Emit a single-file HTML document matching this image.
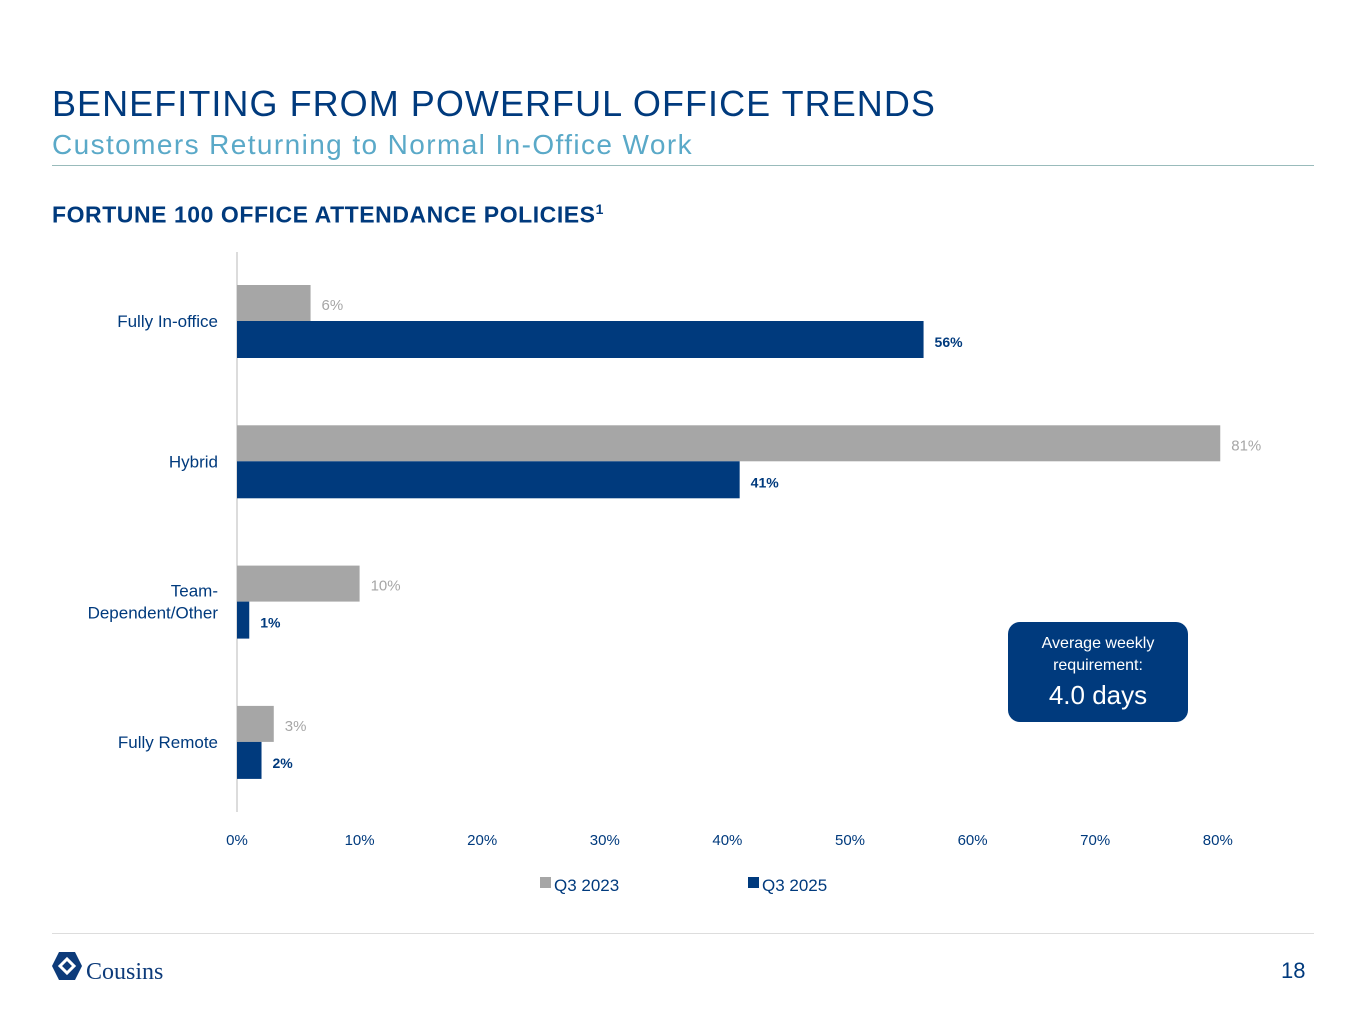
<!DOCTYPE html>
<html><head><meta charset="utf-8"><style>
body{margin:0;width:1365px;height:1032px;background:#fff;font-family:"Liberation Sans",sans-serif;overflow:hidden;position:relative}
.t{position:absolute;white-space:nowrap}
</style></head><body>
<div class="t" style="left:52px;top:83px;font-size:36px;color:#003a7d;letter-spacing:1.05px">BENEFITING FROM POWERFUL OFFICE TRENDS</div>
<div class="t" style="left:52px;top:129px;font-size:28px;color:#5aa9c8;letter-spacing:1.4px">Customers Returning to Normal In-Office Work</div>
<div style="position:absolute;left:52px;top:165px;width:1262px;height:1px;background:#9bb"></div>
<div class="t" style="left:52px;top:201px;font-size:23px;font-weight:bold;color:#003a7d;letter-spacing:0.55px">FORTUNE 100 OFFICE ATTENDANCE POLICIES<sup style="font-size:14px">1</sup></div>
<svg id="chart" width="1365" height="1032" style="position:absolute;left:0;top:0"></svg>
<div style="position:absolute;left:1008px;top:622px;width:180px;height:100px;background:#003a7d;border-radius:12px;color:#fff;text-align:center">
<div style="font-size:16px;margin-top:11px;line-height:22px">Average weekly<br>requirement:</div>
<div style="font-size:26px;margin-top:3px">4.0 days</div></div>
<div style="position:absolute;left:52px;top:933px;width:1262px;height:1px;background:#ddd"></div>
<svg style="position:absolute;left:52px;top:950px" width="120" height="34">
<polygon points="7,2 23,2 30,16 23,30 7,30 0,16" fill="#0d3b7a"/>
<path d="M8,16 L15,9 L22,16 L15,23 Z" fill="none" stroke="#fff" stroke-width="3"/>
<text x="34" y="29" font-family="Liberation Serif" font-size="24" fill="#0d3b7a">Cousins</text></svg>
<div class="t" style="left:1281px;top:958px;font-size:22px;color:#003a7d">18</div>
<script>
const categories=["Fully In-office","Hybrid","Team-\nDependent/Other","Fully Remote"];
const q2023=[6,81,10,3];
const q2025=[56,41,1,2];
const ticks=[0,10,20,30,40,50,60,70,80];
const svg=document.getElementById('chart');
const NS='http://www.w3.org/2000/svg';
const x0=237,pxPer=12.26,maxV=80.2;
const xs=v=>x0+Math.min(v,maxV)*pxPer;
const catY=i=>321+i*140.3;
function mk(tag,attrs,txt){const e=document.createElementNS(NS,tag);for(const k in attrs)e.setAttribute(k,attrs[k]);if(txt!==undefined)e.textContent=txt;svg.appendChild(e);return e;}
const ax=mk('line',{x1:237,x2:237,y1:252,y2:812,stroke:'#d0d0d0','stroke-width':1.5});


categories.forEach((c,i)=>{
 const y=catY(i);
 const g=mk('rect',{x:x0,y:y-36,width:xs(q2023[i])-x0,height:36,fill:'#a6a6a6'});
 
 
 const b=mk('rect',{x:x0,y:y,width:xs(q2025[i])-x0,height:37,fill:'#003a7d'});
 
 
 const l1=mk('text',{x:xs(q2023[i])+11,y:y-11,'font-size':15,fill:'#a6a6a6'},q2023[i]+'%');
 
 
 const l2=mk('text',{x:xs(q2025[i])+11,y:y+26,'font-size':14,'font-weight':'bold',fill:'#003a7d'},q2025[i]+'%');
 
 
 const lines=c.split('\n');
 lines.forEach((ln,j)=>{
  const t=mk('text',{x:218,y:y+6+(j-(lines.length-1)/2)*22,'text-anchor':'end','font-size':17,fill:'#003a7d'},ln);
  
  
 });
});
ticks.forEach(v=>{
 const t=mk('text',{x:x0+v*pxPer,y:845,'text-anchor':'middle','font-size':15,fill:'#003a7d'},v+'%');
 
 
});
[['Q3 2023','#a6a6a6',540],['Q3 2025','#003a7d',748]].forEach(([n,c,x])=>{
 const r=mk('rect',{x:x,y:877,width:11,height:11,fill:c});
 
 
 const t=mk('text',{x:x+14,y:891,'font-size':17,fill:'#003a7d'},n);
 
 
});
</script>
</body></html>
